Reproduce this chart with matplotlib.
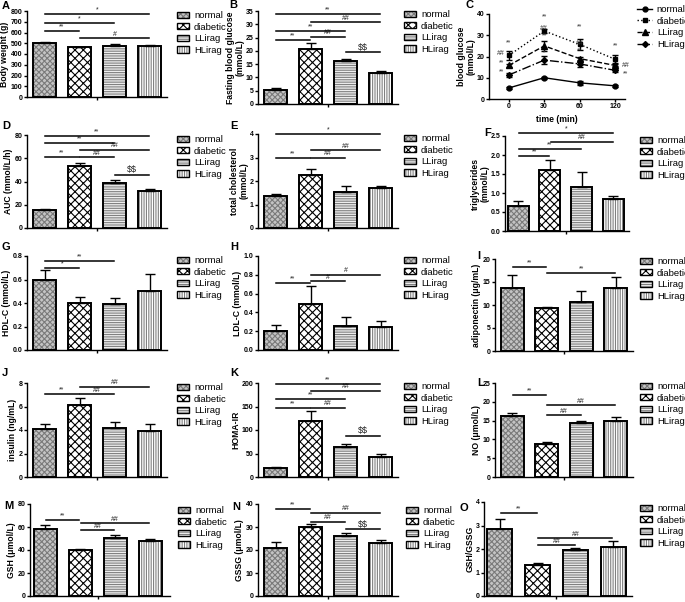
import numpy as np
import matplotlib
matplotlib.use("Agg")
import matplotlib.pyplot as plt
from matplotlib.patches import Patch
from matplotlib.lines import Line2D
from matplotlib.ticker import FormatStrFormatter

plt.rcParams['font.family'] = ['Liberation Sans', 'DejaVu Sans']
plt.rcParams['hatch.linewidth'] = 0.8

W, H = 685, 602

groups = ["normal", "diabetic", "LLirag", "HLirag"]

# values (mean, SEM)
bw_mean = [500, 462, 476, 478]
bw_err = [15, 7, 13, 10]
fbg_mean = [5.3, 20.6, 16.2, 11.7]
fbg_err = [0.6, 2.4, 0.8, 0.8]
auc_mean = [15.5, 53.0, 39.0, 31.5]
auc_err = [1.0, 2.5, 2.0, 2.0]
tc_mean = [1.35, 2.25, 1.53, 1.70]
tc_err = [0.10, 0.25, 0.25, 0.10]
tg_mean = [0.65, 1.60, 1.15, 0.85]
tg_err = [0.13, 0.28, 0.40, 0.08]
hdl_mean = [0.60, 0.40, 0.39, 0.50]
hdl_err = [0.08, 0.05, 0.05, 0.15]
ldl_mean = [0.20, 0.49, 0.26, 0.25]
ldl_err = [0.065, 0.19, 0.09, 0.06]
adipo_mean = [13.8, 9.3, 10.7, 13.7]
adipo_err = [2.7, 0.35, 2.4, 2.3]
ins_mean = [4.1, 6.15, 4.2, 3.95]
ins_err = [0.4, 0.55, 0.5, 0.55]
homa_mean = [20, 120, 64, 43]
homa_err = [2, 20, 7, 5]
no_mean = [16.3, 8.8, 14.3, 15.0]
no_err = [0.7, 0.6, 0.7, 1.0]
gsh_mean = [58.5, 40, 50.5, 47.5]
gsh_err = [3.5, 1.2, 2.5, 2.5]
gssg_mean = [21, 30, 26.2, 23]
gssg_err = [2.5, 1.2, 1.0, 1.5]
ratio_mean = [2.85, 1.33, 1.95, 2.10]
ratio_err = [0.42, 0.07, 0.10, 0.25]

# OGTT
ogtt_time = ["0", "30", "60", "120"]
ogtt_normal = [5.2, 10.0, 7.6, 6.2]
ogtt_normal_err = [0.4, 0.5, 0.9, 0.4]
ogtt_diabetic = [20.5, 32.0, 25.7, 18.7]
ogtt_diabetic_err = [2.0, 0.8, 2.6, 1.8]
ogtt_ll = [15.8, 25.0, 19.0, 15.8]
ogtt_ll_err = [0.6, 2.2, 0.8, 0.5]
ogtt_hl = [11.3, 18.3, 16.5, 13.5]
ogtt_hl_err = [0.8, 2.0, 1.5, 0.6]

# significance bars: (from group, to group, height, label)
sig_A = [(0, 3, 770, "*"), (0, 2, 690, "*"), (0, 1, 615, "**"), (1, 3, 545, "#")]
sig_B = [(0, 3, 33.8, "**"), (1, 3, 30.8, "##"), (0, 2, 27.4, "**"),
         (1, 2, 25.3, "##"), (0, 1, 24.2, "**"), (2, 3, 19.5, r"\$\$")]
sig_D = [(0, 3, 79, "**"), (0, 2, 73.5, "**"), (1, 3, 67.5, "##"),
         (0, 1, 61, "**"), (1, 2, 61, "##"), (2, 3, 46, r"\$\$")]
sig_E = [(0, 3, 4.0, "*"), (1, 3, 3.3, "##"), (0, 1, 3.0, "**"), (1, 2, 3.0, "##")]
sig_F = [(0, 3, 2.57, "*"), (1, 3, 2.35, "##"), (0, 2, 2.15, "**"), (0, 1, 1.97, "**")]
sig_G = [(0, 2, 0.757, "**"), (0, 1, 0.70, "*")]
sig_H = [(1, 3, 0.80, "#"), (1, 2, 0.73, "#"), (0, 1, 0.71, "**")]
sig_I = [(0, 1, 18.3, "**"), (1, 3, 16.9, "**")]
sig_J = [(1, 3, 7.7, "##"), (0, 1, 7.06, "**"), (1, 2, 7.06, "##")]
sig_K = [(0, 3, 198, "**"), (1, 3, 184, "##"), (0, 2, 166, "**"),
         (0, 1, 147, "**"), (1, 2, 147, "##"), (2, 3, 88, r"\$\$")]
sig_L = [(0, 1, 21.9, "**"), (1, 3, 19.1, "##"), (1, 2, 16.4, "##")]
sig_M = [(0, 1, 66, "**"), (1, 3, 63.5, "##"), (1, 2, 57, "##")]
sig_N = [(0, 1, 37.9, "**"), (1, 3, 36.2, "##"), (1, 2, 32.3, "##"), (2, 3, 29.1, r"\$\$")]
sig_O = [(0, 1, 3.53, "**"), (1, 3, 2.45, "##"), (1, 2, 2.15, "##")]

# OGTT stars: (x, y, label)
ogtt_marks = [(0, 26.4, "**"), (-0.22, 21.4, "##"), (-0.2, 17.0, "**"), (-0.2, 12.6, "**"),
              (1, 38.7, "**"), (1, 33.2, "##"), (1, 29.6, "**"), (1, 21.9, "*"),
              (2, 33.7, "**"), (2, 26.1, "##"), (2, 22.7, "**"),
              (3, 24.9, "**"), (3.3, 15.8, "##"), (3.3, 12.0, "**")]

styles = [
    dict(fc="#c4c4c4", hc="#7a7a7a", hatch="xxxxxx"),
    dict(fc="white", hc="black", hatch="xxxx"),
    dict(fc="#eeeeee", hc="#808080", hatch="-------"),
    dict(fc="white", hc="#808080", hatch="|||||||"),
]

TICK_FS = 5
LABEL_FS = 6.2

fig = plt.figure(figsize=(W / 100, H / 100), dpi=100)


def add_ax(l, t, r, b):
    return fig.add_axes([l / W, 1 - b / H, (r - l) / W, (b - t) / H])


def style_ax(ax):
    for s in ["top", "right"]:
        ax.spines[s].set_visible(False)
    for s in ["left", "bottom"]:
        ax.spines[s].set_linewidth(1.0)
    ax.tick_params(axis="both", length=2.2, width=1, labelsize=TICK_FS, pad=1.0)
    for lab in ax.get_yticklabels() + ax.get_xticklabels():
        lab.set_fontweight("bold")


def letter(x, y, s):
    fig.text(x / W, 1 - y / H, s, fontsize=8, fontweight="bold", ha="left", va="center")


def bar_legend(ax, x, y):
    handles = []
    for st in styles:
        p1 = Patch(facecolor=st["fc"], edgecolor=st["hc"], hatch=st["hatch"], linewidth=0)
        p2 = Patch(facecolor="none", edgecolor="black", linewidth=1.0)
        handles.append((p1, p2))
    ax.legend(handles, groups, loc="upper left", bbox_to_anchor=(x / W, 1 - y / H),
              bbox_transform=fig.transFigure, frameon=False, fontsize=6.8,
              handlelength=1.3, handleheight=0.65, handletextpad=0.5,
              labelspacing=0.28, borderpad=0, borderaxespad=0)


def bar_panel(rect, means, errs, ylim, yticks, ylabel, sigs, leg_xy, fmt=None, xlim=(-0.5, 3.5)):
    ax = add_ax(*rect)
    x = np.arange(4)
    for i in range(4):
        st = styles[i]
        ax.bar(x[i], means[i], width=0.66, color=st["fc"], edgecolor=st["hc"],
               hatch=st["hatch"], linewidth=0, zorder=2)
        ax.bar(x[i], means[i], width=0.66, fill=False, edgecolor="black",
               linewidth=1.4, zorder=3)
    ax.errorbar(x, means, yerr=[np.zeros(4), errs], fmt="none", ecolor="black",
                elinewidth=1, capsize=3.5, capthick=1, zorder=4)
    for i, j, y, txt in sigs:
        ax.plot([i + 0.02, j - 0.02], [y, y], color="black", lw=1.1, clip_on=False, zorder=5)
        ax.text((i + j) / 2, y + (ylim[1] - ylim[0]) * 0.005, txt, ha="center", va="bottom",
                fontsize=6.5 if "$" in txt else 5, color="#222222")
    ax.set_xlim(*xlim)
    ax.set_ylim(*ylim)
    ax.set_yticks(yticks)
    ax.set_xticks([1.5])
    ax.set_xticklabels([""])
    if fmt:
        ax.yaxis.set_major_formatter(FormatStrFormatter(fmt))
    ax.set_ylabel(ylabel, fontsize=LABEL_FS, fontweight="bold", labelpad=1.0, linespacing=1.0)
    style_ax(ax)
    bar_legend(ax, *leg_xy)
    return ax


# row 1
bar_panel((27, 11, 167, 97), bw_mean, bw_err, (0, 800), np.arange(0, 801, 100),
          "Body weight (g)", sig_A, (177, 11))
bar_panel((258, 11, 398, 104), fbg_mean, fbg_err, (0, 35), np.arange(0, 36, 5),
          "Fasting blood glucose\n(mmol/L)", sig_B, (404, 10))

axC = add_ax(489, 14, 625, 99)
tx = np.arange(4)
series = [
    (ogtt_normal, ogtt_normal_err, "-", "o", 3.5),
    (ogtt_diabetic, ogtt_diabetic_err, ":", "s", 3.5),
    (ogtt_ll, ogtt_ll_err, "--", "^", 3.8),
    (ogtt_hl, ogtt_hl_err, "-.", "D", 3.0),
]
handles = []
for vals, errs, ls, mk, ms in series:
    axC.errorbar(tx, vals, yerr=errs, color="black", ls=ls, lw=1, marker=mk, ms=ms,
                 capsize=2.5, elinewidth=1, capthick=1)
    handles.append(Line2D([], [], color="black", ls=ls, lw=1, marker=mk, ms=ms))
for x, y, txt in ogtt_marks:
    axC.text(x, y, txt, ha="center", va="center", fontsize=5, color="#333333", clip_on=False)
axC.set_xlim(-0.56, 3.28)
axC.set_ylim(0, 40)
axC.set_yticks([0, 10, 20, 30, 40])
axC.set_xticks(tx)
axC.set_xticklabels(ogtt_time)
axC.set_xlabel("time (min)", fontsize=LABEL_FS, fontweight="bold", labelpad=3)
axC.set_ylabel("blood glucose\n(mmol/L)", fontsize=LABEL_FS, fontweight="bold", labelpad=1.0,
               linespacing=1.0)
style_ax(axC)
axC.legend(handles, groups, loc="upper left", bbox_to_anchor=(637 / W, 1 - 5 / H),
           bbox_transform=fig.transFigure, frameon=False, fontsize=6.8,
           handlelength=1.6, handletextpad=0.5, labelspacing=0.28, borderpad=0, borderaxespad=0)

# row 2
bar_panel((27, 135, 167, 228), auc_mean, auc_err, (0, 80), np.arange(0, 81, 20),
          "AUC (mmol/L/h)", sig_D, (177, 135))
bar_panel((258, 134, 398, 228), tc_mean, tc_err, (0, 4), np.arange(0, 5, 1),
          "total cholesterol\n(mmol/L)", sig_E, (404, 134))
bar_panel((505, 136, 629, 231), tg_mean, tg_err, (0, 2.5), np.arange(0, 2.6, 0.5),
          "triglycerides\n(mmol/L)", sig_F, (640, 136), fmt="%.1f", xlim=(-0.42, 3.5))

# row 3
bar_panel((27, 256, 167, 350), hdl_mean, hdl_err, (0, 0.8), np.arange(0, 0.81, 0.2),
          "HDL-C (mmol/L)", sig_G, (177, 256), fmt="%.1f")
bar_panel((258, 256, 398, 350), ldl_mean, ldl_err, (0, 1.0), np.arange(0, 1.01, 0.2),
          "LDL-C (mmol/L)", sig_H, (404, 256), fmt="%.1f")
bar_panel((495, 259, 633, 351), adipo_mean, adipo_err, (0, 20), np.arange(0, 21, 5),
          "adiponectin (\u03bcg/mL)", sig_I, (640, 257))

# row 4
bar_panel((27, 383, 167, 477), ins_mean, ins_err, (0, 8), np.arange(0, 9, 2),
          "insulin (ng/mL)", sig_J, (177, 383))
bar_panel((258, 383, 398, 477), homa_mean, homa_err, (0, 200), np.arange(0, 201, 50),
          "HOMA-IR", sig_K, (404, 382))
bar_panel((495, 383, 633, 477), no_mean, no_err, (0, 25), np.arange(0, 26, 5),
          "NO (\u03bcmol/L)", sig_L, (640, 382))

# row 5
bar_panel((30, 504, 170, 596), gsh_mean, gsh_err, (0, 80), np.arange(0, 81, 20),
          "GSH (\u03bcmol/L)", sig_M, (178, 506), xlim=(-0.43, 3.57))
bar_panel((258, 504, 398, 596), gssg_mean, gssg_err, (0, 40), np.arange(0, 41, 10),
          "GSSG (\u03bcmol/L)", sig_N, (406, 506))
bar_panel((484, 502, 632, 596), ratio_mean, ratio_err, (0, 4), np.arange(0, 5, 1),
          "GSH/GSSG", sig_O, (640, 504), xlim=(-0.42, 3.5))

for x, y, s in [(2, 6, "A"), (229, 5, "B"), (466, 5, "C"),
                (2, 126, "D"), (230, 126, "E"), (484, 133, "F"),
                (2, 247, "G"), (230, 247, "H"), (477, 256, "I"),
                (2, 373, "J"), (230, 373, "K"), (477, 383, "L"),
                (4, 506, "M"), (232, 507, "N"), (459, 508, "O")]:
    letter(x, y, s)

fig.savefig("out.png", dpi=100)
